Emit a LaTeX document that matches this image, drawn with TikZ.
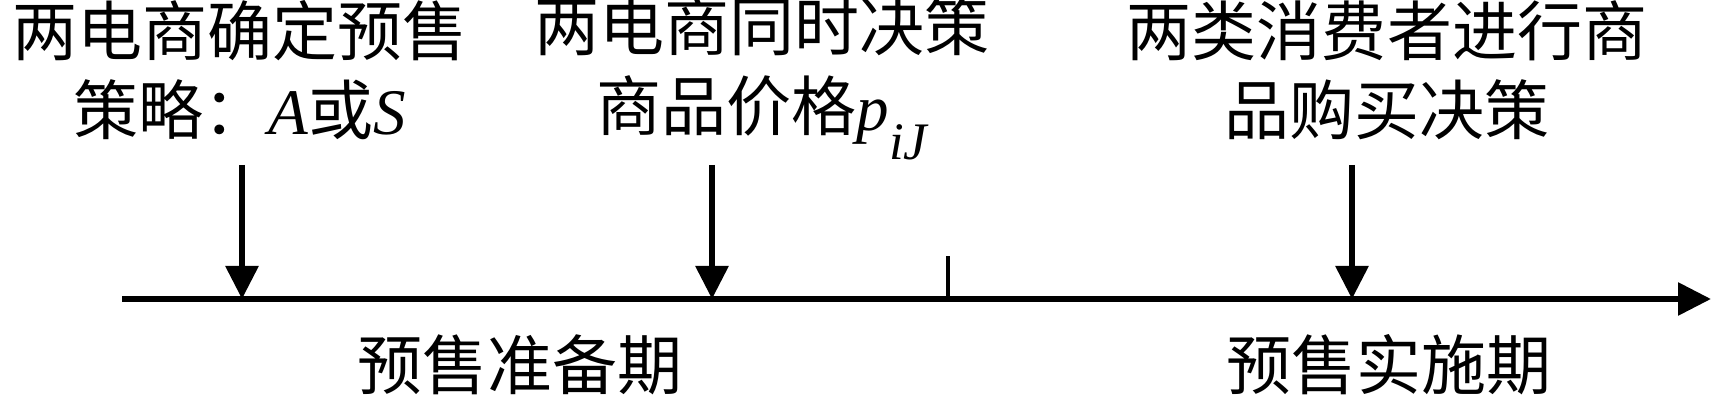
\documentclass[tikz,border=0pt]{standalone}
\usepackage{fontspec}
\setmainfont{Noto Sans CJK SC}
\newfontfamily\tnr{Liberation Serif}
\usepackage{tikz}
\usetikzlibrary{arrows.meta, calc}
\tikzstyle{line} = [draw, line width=1.7pt, -{Triangle[length=3.3mm, width=3.2mm]}]
\tikzstyle{tick} = [draw, line width=1.4pt]
\newcommand{\mi}[1]{{\tnr\itshape #1}}
\newcommand{\lowsub}[1]{\raisebox{-0.45em}[0pt][0pt]{\fontsize{15pt}{15pt}\selectfont\mi{#1}}}

\begin{document}
\begin{tikzpicture}[
    event/.style={align=center, inner sep=0pt},
    period/.style={inner sep=0pt},
    font=\fontsize{18.5pt}{22.5pt}\selectfont
    ]
    \useasboundingbox (0,0) rectangle (17.11,4.07);

    \coordinate (start) at (1.22,1.08);
    \coordinate (end) at (17.11,1.08);
    \coordinate (t1) at (2.42,1.08);
    \coordinate (t2) at (7.12,1.08);
    \coordinate (t3) at (13.52,1.08);
    \coordinate (mid) at (9.48,1.08);
    \coordinate (a1) at (2.42,2.42);
    \coordinate (a2) at (7.12,2.42);
    \coordinate (a3) at (13.52,2.42);
    \coordinate (midtop) at (9.48,1.51);

    \node[event] (strategy) at (2.40,3.37) {两电商确定预售\\策略：\mi{A}或\mi{S}};
    \node[event] (price) at (7.62,3.37) {两电商同时决策\\商品价格\mi{p}\lowsub{iJ}};
    \node[event] (buy) at (13.87,3.37) {两类消费者进行商\\品购买决策};
    \node[period] (prep) at (5.20,0.42) {预售准备期};
    \node[period] (sale) at (13.89,0.42) {预售实施期};

    \draw[line] (start) -- (end);
    \draw[tick] (mid) -- (midtop);
    \draw[line] (a1) -- (t1);
    \draw[line] (a2) -- (t2);
    \draw[line] (a3) -- (t3);
\end{tikzpicture}
\end{document}
